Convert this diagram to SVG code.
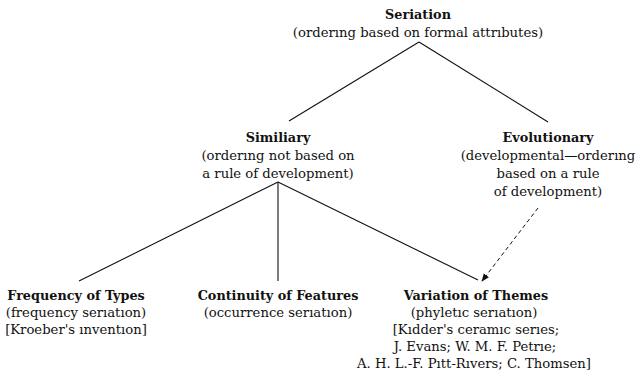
<svg xmlns="http://www.w3.org/2000/svg" width="642" height="378" viewBox="0 0 642 378" font-family="'DejaVu Serif', serif">
<defs>
<style>
text{font-family:"DejaVu Serif",serif;font-size:13.2px;fill:#111;text-anchor:middle}
.b{font-weight:bold;font-size:12.8px}
.ln{stroke:#111;stroke-width:1.1;fill:none}
.dash{stroke:#111;stroke-width:1;fill:none;stroke-dasharray:4 3}
</style>
<marker id="ah" viewBox="0 0 10 10" refX="9" refY="5" markerWidth="8" markerHeight="8" markerUnits="userSpaceOnUse" orient="auto">
<path d="M0,1 L10,5 L0,9 Z" fill="#111"/>
</marker>
</defs>
<rect width="642" height="378" fill="#fff"/>
<g id="connectors">
<line class="ln" x1="419" y1="42" x2="289" y2="121"/>
<line class="ln" x1="419" y1="42" x2="548" y2="122"/>
<line class="ln" x1="278" y1="182" x2="79" y2="281"/>
<line class="ln" x1="278" y1="182" x2="278" y2="281"/>
<line class="ln" x1="278" y1="182" x2="478" y2="280"/>
<line class="dash" x1="538" y1="208" x2="482" y2="281" marker-end="url(#ah)"/>
</g>
<g id="seriation">
<text class="b" x="418" y="19">Seriation</text>
<text x="418" y="37">(orderıng based on formal attrıbutes)</text>
</g>
<g id="similiary">
<text class="b" x="278" y="142">Similiary</text>
<text x="278" y="160">(orderıng not based on</text>
<text x="278" y="178">a rule of development)</text>
</g>
<g id="evolutionary">
<text class="b" x="548" y="142">Evolutionary</text>
<text x="548" y="160">(developmental—orderıng</text>
<text x="548" y="178">based on a rule</text>
<text x="548" y="196">of development)</text>
</g>
<g id="frequency">
<text class="b" x="76" y="300">Frequency of Types</text>
<text x="76" y="317">(frequency serıatıon)</text>
<text x="76" y="334">[Kroeber's ınventıon]</text>
</g>
<g id="continuity">
<text class="b" x="278" y="300">Continuity of Features</text>
<text x="278" y="317">(occurrence serıatıon)</text>
</g>
<g id="variation">
<text class="b" x="476" y="300">Variation of Themes</text>
<text x="474" y="317">(phyletıc serıatıon)</text>
<text x="476" y="334">[Kıdder's ceramıc serıes;</text>
<text x="475" y="351">J. Evans; W. M. F. Petrıe;</text>
<text x="474" y="368">A. H. L.-F. Pıtt-Rıvers; C. Thomsen]</text>
</g>
</svg>
